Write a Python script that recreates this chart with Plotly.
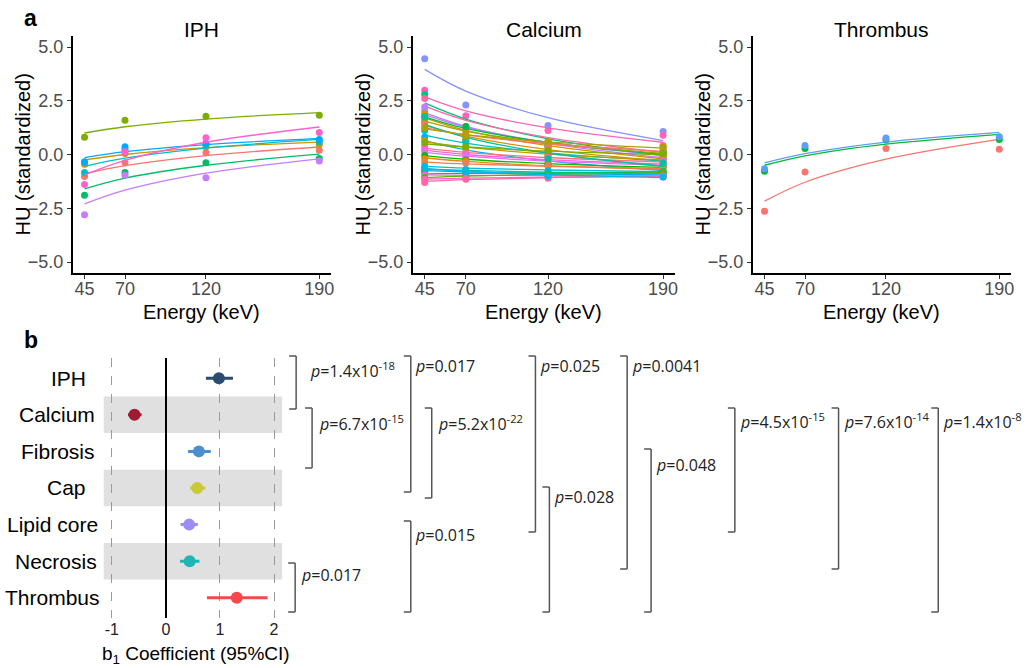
import math
import plotly.graph_objects as go

W, H = 1029, 668

energy = [45, 70, 120, 190]

# panel a, IPH: HU per lesion at each energy and the fitted log curve
iph_points = [
    [-1.02, -0.38, 0.08, 0.20],
    [-0.45, 0.05, 0.36, 0.47],
    [0.80, 1.59, 1.78, 1.83],
    [-1.90, -0.84, -0.38, -0.19],
    [-0.84, 0.23, 0.48, 0.59],
    [-0.34, 0.36, 0.52, 0.70],
    [-2.80, -0.97, -1.08, -0.30],
    [-1.39, 0.13, 0.78, 1.02],
]
iph_fit = [
    [-0.90, -0.52, -0.05, 0.35],
    [-0.25, 0.00, 0.32, 0.58],
    [1.00, 1.29, 1.65, 1.95],
    [-1.60, -1.10, -0.50, 0.02],
    [-0.55, -0.17, 0.30, 0.70],
    [-0.15, 0.13, 0.46, 0.75],
    [-2.30, -1.66, -0.87, -0.20],
    [-0.95, -0.27, 0.57, 1.28],
]

# panel a, Calcium
calcium_points = [
    [4.45, 2.30, 1.35, 1.07],
    [2.99, 1.80, 1.12, 0.90],
    [2.79, 1.30, 0.55, 0.20],
    [2.60, 1.25, 0.60, 0.42],
    [2.21, 1.05, 0.40, 0.05],
    [2.05, 0.90, 0.35, 0.10],
    [1.90, 0.95, 0.20, -0.05],
    [1.75, 1.30, 0.40, 0.05],
    [1.60, 0.80, 0.45, 0.15],
    [1.50, 0.70, 0.10, -0.10],
    [1.40, 0.60, 0.30, 0.30],
    [1.12, 0.60, -0.05, -0.20],
    [0.81, 0.05, -0.45, -0.55],
    [0.65, 0.30, 0.00, -0.15],
    [0.40, 0.10, -0.10, -0.25],
    [0.25, 0.00, -0.20, -0.30],
    [0.15, -0.10, -0.30, -0.40],
    [-0.05, -0.25, -0.45, -0.55],
    [-0.20, -0.30, -0.55, -0.60],
    [-0.36, -0.40, -0.50, -0.65],
    [-0.55, -0.70, -0.75, -0.80],
    [-0.67, -0.75, -0.85, -0.85],
    [-0.75, -0.80, -0.90, -0.95],
    [-0.83, -0.85, -0.95, -0.80],
    [-0.95, -0.95, -1.00, -1.00],
    [-1.06, -1.00, -0.95, -0.85],
    [-1.15, -1.10, -1.05, -1.00],
    [-1.30, -1.15, -1.10, -1.05],
    [-0.60, -0.80, -1.00, -1.05],
    [1.75, 0.40, -0.20, -0.40],
    [1.25, 0.85, 0.60, 0.35],
    [0.55, 0.35, 0.20, 0.05],
]
calcium_fit = [
    [3.96, 2.95, 1.71, 0.65],
    [2.68, 2.03, 1.24, 0.57],
    [2.40, 1.65, 0.73, -0.05],
    [2.25, 1.59, 0.79, 0.10],
    [1.95, 1.31, 0.52, -0.15],
    [1.85, 1.27, 0.56, -0.05],
    [1.70, 1.12, 0.41, -0.20],
    [1.75, 1.21, 0.56, 0.00],
    [1.55, 1.09, 0.53, 0.05],
    [1.35, 0.85, 0.23, -0.30],
    [1.25, 0.91, 0.50, 0.15],
    [0.90, 0.53, 0.08, -0.30],
    [0.65, 0.22, -0.30, -0.75],
    [0.60, 0.34, 0.02, -0.25],
    [0.30, 0.10, -0.14, -0.35],
    [0.20, 0.00, -0.24, -0.45],
    [0.10, -0.08, -0.31, -0.50],
    [-0.05, -0.22, -0.42, -0.60],
    [-0.15, -0.32, -0.52, -0.70],
    [-0.35, -0.44, -0.55, -0.65],
    [-0.55, -0.63, -0.72, -0.80],
    [-0.68, -0.74, -0.82, -0.88],
    [-0.75, -0.81, -0.89, -0.95],
    [-0.90, -0.88, -0.85, -0.82],
    [-0.95, -0.97, -0.98, -1.00],
    [-1.08, -1.01, -0.92, -0.85],
    [-1.15, -1.10, -1.05, -1.00],
    [-1.25, -1.17, -1.08, -1.00],
    [-0.65, -0.78, -0.94, -1.08],
    [1.40, 0.80, 0.07, -0.55],
    [1.20, 0.92, 0.59, 0.30],
    [0.50, 0.35, 0.16, 0.00],
]

# panel a, Thrombus
thrombus_points = [
    [-2.64, -0.81, 0.28, 0.25],
    [-0.78, 0.28, 0.67, 0.70],
    [-0.66, 0.42, 0.77, 0.83],
]
thrombus_fit = [
    [-2.17, -1.29, -0.22, 0.70],
    [-0.50, -0.06, 0.48, 0.94],
    [-0.39, 0.04, 0.58, 1.03],
]

# panel b, b1 coefficient with 95% CI
components = ["IPH", "Calcium", "Fibrosis", "Cap", "Lipid core", "Necrosis", "Thrombus"]
b1_est = [0.98, -0.58, 0.61, 0.58, 0.43, 0.44, 1.31]
b1_lo = [0.74, -0.70, 0.41, 0.45, 0.27, 0.26, 0.76]
b1_hi = [1.24, -0.45, 0.83, 0.73, 0.59, 0.62, 1.88]

# pairwise comparisons
pairs = [("IPH", "Calcium"), ("Calcium", "Fibrosis"), ("Necrosis", "Thrombus"),
         ("IPH", "Cap"), ("Calcium", "Cap"), ("Lipid core", "Thrombus"),
         ("IPH", "Lipid core"), ("Cap", "Thrombus"), ("IPH", "Necrosis"),
         ("Fibrosis", "Thrombus"), ("Calcium", "Lipid core"), ("Calcium", "Necrosis"),
         ("Calcium", "Thrombus")]
p_values = ["1.4x10<sup>-18</sup>", "6.7x10<sup>-15</sup>", "0.017", "0.017",
            "5.2x10<sup>-22</sup>", "0.015", "0.025", "0.028", "0.0041", "0.048",
            "4.5x10<sup>-15</sup>", "7.6x10<sup>-14</sup>", "1.4x10<sup>-8</sup>"]


def hcl(h, c=100, l=65):
    # ggplot2 default hue colours
    h = math.radians(h)
    u, v = c * math.cos(h), c * math.sin(h)
    xn, yn, zn = 95.047, 100.0, 108.883
    d = xn + 15 * yn + 3 * zn
    un, vn = 4 * xn / d, 9 * yn / d
    y = yn * ((l + 16) / 116) ** 3
    up, vp = u / (13 * l) + un, v / (13 * l) + vn
    x = y * 9 * up / (4 * vp)
    z = y * (12 - 3 * up - 20 * vp) / (4 * vp)
    x, y, z = x / 100, y / 100, z / 100
    rgb = [3.2406 * x - 1.5372 * y - 0.4986 * z,
           -0.9689 * x + 1.8758 * y + 0.0415 * z,
           0.0557 * x - 0.2040 * y + 1.0570 * z]

    def gam(t):
        t = max(0.0, min(1.0, t))
        return 1.055 * t ** (1 / 2.4) - 0.055 if t > 0.0031308 else 12.92 * t
    return '#%02x%02x%02x' % tuple(round(gam(t) * 255) for t in rgb)


def hue_pal(n):
    return [hcl(15 + 360 * i / n) for i in range(n)]


def px(x):
    return x / W


def py(y):
    return 1 - y / H


cal_pal = hue_pal(32)
cal_order = [22, 29, 13, 30, 24, 23, 3, 11, 7, 4, 0, 16, 19, 5, 31, 27,
             25, 10, 2, 1, 17, 15, 20, 12, 26, 9, 28, 30, 18, 14, 6, 8]
panels = [
    ("IPH", iph_points, iph_fit, hue_pal(8), (73, 332)),
    ("Calcium", calcium_points, calcium_fit, [cal_pal[i] for i in cal_order], (414, 677)),
    ("Thrombus", thrombus_points, thrombus_fit, hue_pal(3), (755, 1014)),
]
forest_colors = ["#2b4c6f", "#9e1b32", "#4a8fd2", "#c9c93a", "#9c8df5", "#1fb5b5", "#f2494a"]

fig = go.Figure()
layout = dict(width=W, height=H, margin=dict(l=0, r=0, t=0, b=0),
              paper_bgcolor="white", plot_bgcolor="white", showlegend=False,
              font=dict(family="Liberation Sans, Arial", color="black"))
annotations = []
shapes = []


def note(text, x, y, size, **kw):
    d = dict(text=text, x=px(x), y=py(y), xref="paper", yref="paper", showarrow=False,
             xanchor="center", yanchor="middle", font=dict(size=size))
    d.update(kw)
    annotations.append(d)


top_dom = [py(272.75), py(36.25)]
for k, (title, pts, fit, cols, (x0, x1)) in enumerate(panels, start=1):
    xa, ya = ("x%d" % k, "y%d" % k)
    for pv, fv, c in zip(pts, fit, cols):
        fig.add_trace(go.Scatter(x=energy, y=pv, mode="markers", xaxis=xa, yaxis=ya,
                                 marker=dict(color=c, size=7), hoverinfo="skip"))
        fig.add_trace(go.Scatter(x=energy, y=fv, mode="lines", xaxis=xa, yaxis=ya,
                                 line=dict(color=c, width=1.3, shape="spline"), hoverinfo="skip"))
    sfx = "" if k == 1 else str(k)
    layout["xaxis" + sfx] = dict(domain=[px(x0), px(x1)], anchor=ya, range=[37.75, 197.25],
                                 tickvals=energy, showline=True, linecolor="black", linewidth=2,
                                 ticks="outside", ticklen=4, tickcolor="#333", tickwidth=1,
                                 ticklabelstandoff=-5,
                                 showgrid=False, zeroline=False,
                                 tickfont=dict(size=18, color="#4d4d4d"))
    layout["yaxis" + sfx] = dict(domain=top_dom, anchor=xa, range=[-5.5, 5.5],
                                 tickvals=[-5, -2.5, 0, 2.5, 5],
                                 ticktext=["\u22125.0", "\u22122.5", "0.0", "2.5", "5.0"],
                                 showline=True, linecolor="black", linewidth=2,
                                 ticks="outside", ticklen=4, tickcolor="#333", tickwidth=1,
                                 showgrid=False, zeroline=False,
                                 tickfont=dict(size=18, color="#4d4d4d"))
    cx = (x0 + x1) / 2
    note(title, cx, 30, 21)
    note("Energy (keV)", cx, 312, 20)
    note("HU (standardized)", x0 - 49, 154.5, 20, textangle=-90)

# panel b forest plot
rows = list(range(len(components), 0, -1))
for r, name in zip(rows, components):
    if name in ("Calcium", "Cap", "Necrosis"):
        shapes.append(dict(type="rect", xref="x4 domain", yref="y4", x0=0, x1=1,
                           y0=r - 0.5, y1=r + 0.5, fillcolor="#e0e0e0", line=dict(width=0),
                           layer="below"))
for r, e, lo, hi, c in zip(rows, b1_est, b1_lo, b1_hi, forest_colors):
    fig.add_trace(go.Scatter(x=[e], y=[r], mode="markers", xaxis="x4", yaxis="y4",
                             marker=dict(color=c, size=12),
                             error_x=dict(type="data", symmetric=False, array=[hi - e],
                                          arrayminus=[e - lo], color=c, thickness=3, width=0)))

layout["xaxis4"] = dict(domain=[px(104), px(283)], anchor="y4", range=[-1.15, 2.15],
                        tickvals=[-1, 0, 1, 2], ticktext=["-1", "0", "1", "2"],
                        showgrid=True, gridcolor="#9a9a9a", gridwidth=1, griddash="dash",
                        zeroline=True, zerolinecolor="black", zerolinewidth=2,
                        showline=False, ticks="", tickfont=dict(size=16, color="#222"))
layout["yaxis4"] = dict(domain=[py(618), py(358)], anchor="x4", range=[0.45, 7.55],
                        showticklabels=False, showgrid=False, zeroline=False, showline=False)

label_right = [88, 97, 97, 88, 100, 99, 102]
for r, name, xr in zip(rows, components, label_right):
    annotations.append(dict(text=name, x=px(xr), y=r, xref="paper", yref="y4",
                            xanchor="right", yanchor="middle", showarrow=False,
                            font=dict(size=21)))
note("b<sub>1</sub> Coefficient (95%CI)", 197, 655, 19)

# bracket geometry in pixels: x, top, bottom, text x, text y
bracket_geo = [(297, 356, 409, 309, 370), (313, 408, 468, 318, 423), (296, 563, 612, 300, 575),
               (412, 356, 492, 414, 366), (433, 408, 498, 437, 423), (412, 521, 612, 414, 535),
               (537, 356, 532, 540, 366), (551, 487, 612, 554, 497), (629, 356, 569, 632, 366),
               (653, 449, 612, 656, 465), (737, 408, 532, 740, 421), (841, 408, 569, 844, 421),
               (941, 408, 612, 944, 421)]
line_style = dict(color="#555", width=1.5)
for (bx, bt, bb, tx, ty), p in zip(bracket_geo, p_values):
    shapes.append(dict(type="line", xref="paper", yref="paper", x0=px(bx), x1=px(bx),
                       y0=py(bt), y1=py(bb), line=line_style))
    for yy in (bt, bb):
        shapes.append(dict(type="line", xref="paper", yref="paper", x0=px(bx - 7), x1=px(bx),
                           y0=py(yy), y1=py(yy), line=line_style))
    note("<i>p</i>=" + p, tx, ty, 16, xanchor="left",
         font=dict(family="Open Sans", size=16, color="#222"))

note("<b>a</b>", 22, 18, 23, xanchor="left")
note("<b>b</b>", 22, 340, 23, xanchor="left")

layout["annotations"] = annotations
layout["shapes"] = shapes
fig.update_layout(**layout)
fig.write_html("out.html", post_script="document.body.style.margin='0';",
               config={"displayModeBar": False})
